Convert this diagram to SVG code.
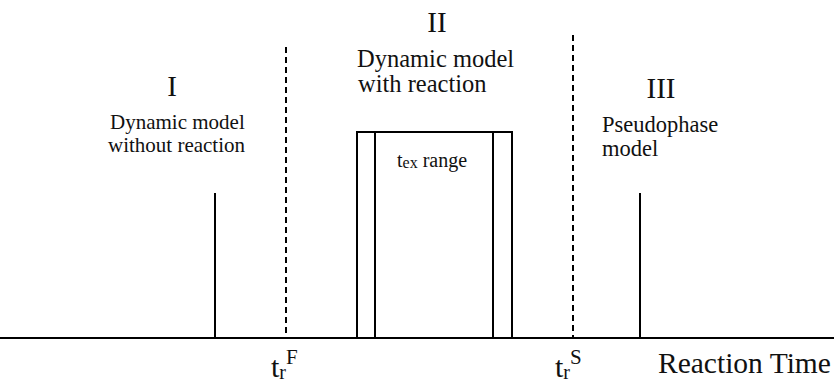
<svg xmlns="http://www.w3.org/2000/svg" width="834" height="382" viewBox="0 0 834 382">
<style>
.ln{stroke:#000;stroke-width:2;fill:none}
.dash{stroke:#000;stroke-width:2;stroke-dasharray:6,4;fill:none}
text{fill:#111}
</style>
<rect width="834" height="382" fill="#fff"/>
<g font-family="'Liberation Serif', 'Times New Roman', 'DejaVu Serif', serif">
<g id="axis">
<line class="ln" x1="0" y1="338" x2="834" y2="338"/>
</g>
<g id="connectors">
<line class="dash" x1="286" y1="47" x2="286" y2="338"/>
<line class="dash" x1="573" y1="35" x2="573" y2="338"/>
<line class="ln" x1="215" y1="193" x2="215" y2="338"/>
<line class="ln" x1="640" y1="193" x2="640" y2="338"/>
</g>
<g id="region1">
<text x="172" y="96" font-size="29" text-anchor="middle">I</text>
<text x="110" y="129" font-size="21">Dynamic model</text>
<text x="108" y="152" font-size="21">without reaction</text>
</g>
<g id="region2">
<text x="437" y="32" font-size="29" text-anchor="middle">II</text>
<text x="357" y="67" font-size="24.5">Dynamic model</text>
<text x="358" y="92" font-size="24.5">with reaction</text>
</g>
<g id="region3">
<text x="661" y="98" font-size="29" text-anchor="middle">III</text>
<text x="602" y="132" font-size="22.5">Pseudophase</text>
<text x="602" y="156" font-size="22.5">model</text>
</g>
<g id="texbox">
<rect class="ln" x="357" y="132" width="155" height="206"/>
<line class="ln" x1="375" y1="132" x2="375" y2="338"/>
<line class="ln" x1="493" y1="132" x2="493" y2="338"/>
<text x="397" y="167" font-size="20">t<tspan font-size="16" dy="1">ex</tspan><tspan dy="-1"> range</tspan></text>
</g>
<g id="labels">
<text x="271" y="377" font-size="30">t<tspan font-size="20" dy="2">r</tspan><tspan font-size="21" dy="-15">F</tspan></text>
<text x="555" y="377" font-size="30">t<tspan font-size="20" dy="2">r</tspan><tspan font-size="21" dy="-15">S</tspan></text>
<text x="658" y="373" font-size="29.5">Reaction Time</text>
</g>
</g>
</svg>
